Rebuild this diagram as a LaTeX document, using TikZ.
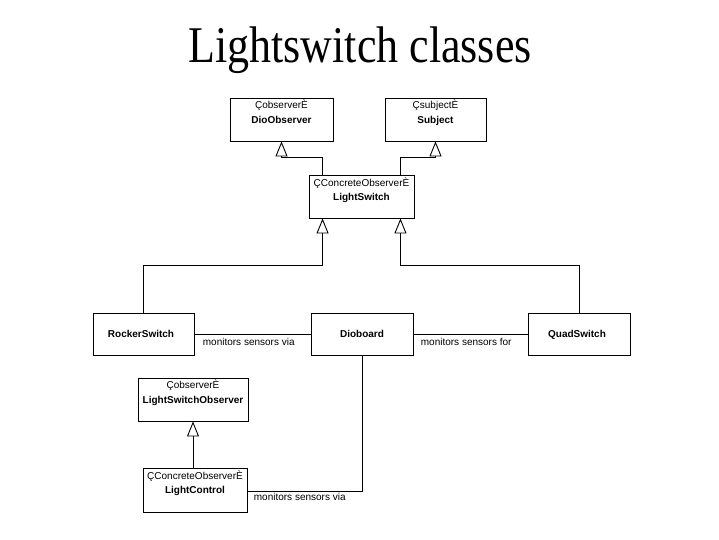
\documentclass[tikz,border=0pt]{standalone}
\usepackage{fontspec}
\usepackage{graphicx}
\setmainfont{Liberation Sans}
\newfontfamily\titlefont{Liberation Serif}
\usetikzlibrary{arrows.meta,calc}
\begin{document}
\begin{tikzpicture}[x=1pt,y=-1pt,line width=0.9pt,
  box/.style={draw,inner sep=0pt},
  stereo/.style={inner sep=0pt,anchor=base,font=\fontsize{10}{12}\selectfont},
  cname/.style={inner sep=0pt,anchor=base,font=\fontsize{10}{12}\selectfont\bfseries},
  lbl/.style={inner sep=0pt,font=\fontsize{10}{12}\selectfont},
  gen/.style={-{Triangle[open,length=15pt,width=12pt]}}]
\fill[white] (0,0) rectangle (719,539);
\useasboundingbox (0,0) rectangle (719,539);
% title
\node[anchor=base,inner sep=0pt] (title) at (360,62) {\titlefont\fontsize{44}{50}\selectfont\scalebox{1}[1.17]{Lightswitch classes}};
% boxes
\node[box,minimum width=103pt,minimum height=43pt] (dio) at (281.5,119.5) {};
\node[box,minimum width=101pt,minimum height=43pt] (subj) at (435.5,119.5) {};
\node[box,minimum width=105pt,minimum height=43pt] (ls) at (361.5,196.5) {};
\node[box,minimum width=101pt,minimum height=42pt] (rock) at (143.5,334) {};
\node[box,minimum width=102pt,minimum height=42pt] (diob) at (362,334) {};
\node[box,minimum width=102pt,minimum height=42pt] (quad) at (579,334) {};
\node[box,minimum width=110pt,minimum height=43pt] (lso) at (193,399.5) {};
\node[box,minimum width=104pt,minimum height=44pt] (lc) at (195,490) {};
% texts
\node[stereo] (dioS) at (281.5,108) {ÇobserverÈ};
\node[cname] (dioN) at (281.5,123) {DioObserver};
\node[stereo] (subjS) at (435.5,108) {ÇsubjectÈ};
\node[cname] (subjN) at (435.5,123) {Subject};
\node[stereo] (lsS) at (361.5,186) {ÇConcreteObserverÈ};
\node[cname] (lsN) at (361.5,200) {LightSwitch};
\node[cname] (rockN) at (141,337) {RockerSwitch};
\node[cname] (diobN) at (362,337) {Dioboard};
\node[cname] (quadN) at (577,337) {QuadSwitch};
\node[stereo] (lsoS) at (193,388) {ÇobserverÈ};
\node[cname] (lsoN) at (193,403) {LightSwitchObserver};
\node[stereo] (lcS) at (195,479) {ÇConcreteObserverÈ};
\node[cname] (lcN) at (195,493) {LightControl};
% generalizations
\draw[gen] ($(ls.north west)+(14,0)$) |- ($(dio.south)+(0,16)$) -- (dio.south);
\draw[gen] ($(ls.north east)+(-14,0)$) |- ($(subj.south)+(0,16)$) -- (subj.south);
\draw[gen] (rock.north) |- ($(ls.south west)+(14,47)$) -- ($(ls.south west)+(14,0)$);
\draw[gen] (quad.north) |- ($(ls.south east)+(-14,47)$) -- ($(ls.south east)+(-14,0)$);
\draw[gen] (lc.north -| lso.south) -- (lso.south);
% associations
\draw (rock.east) -- (diob.west);
\draw (diob.east) -- (quad.west);
\draw (diob.south) |- ($(lc.east)+(0,1)$);
\node[lbl,anchor=base west] (l1) at ($(rock.east)+(8,11)$) {monitors sensors via};
\node[lbl,anchor=base west] (l2) at ($(diob.east)+(7,11)$) {monitors sensors for};
\node[lbl,anchor=base west] (l3) at ($(lc.east)+(6,10)$) {monitors sensors via};
\end{tikzpicture}
\end{document}
